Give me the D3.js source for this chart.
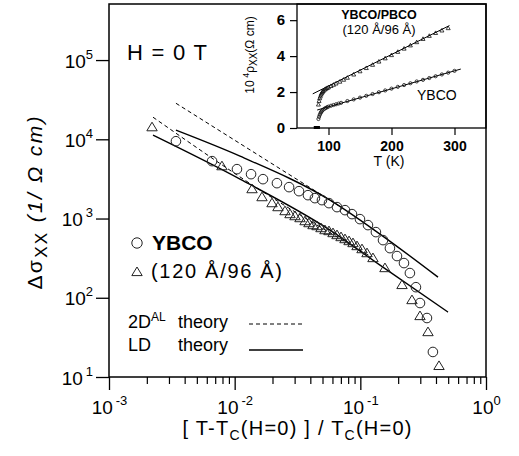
<!DOCTYPE html>
<html><head><meta charset="utf-8">
<script src="https://cdn.jsdelivr.net/npm/d3@7"></script>
<style>
body{margin:0;background:#fff;}
svg{display:block;}
</style></head><body>
<svg id="c" width="519" height="456"></svg>
<script>
// ---------------- data (main plot) ----------------
const xMajor = [1e-3, 1e-2, 1e-1, 1];
const xTickExp = ["-3", "-2", "-1", "0"];
const yMajor = [1e1, 1e2, 1e3, 1e4, 1e5];
const yTickExp = ["1", "2", "3", "4", "5"];

// YBCO (circles): reduced temperature and excess conductivity
const ybcoEps = [0.00341, 0.00661, 0.01043, 0.0135, 0.0168, 0.0217, 0.0271, 0.0325, 0.0383, 0.0435, 0.0495, 0.0563, 0.0652, 0.0755, 0.0858, 0.0993, 0.115, 0.133, 0.1515, 0.172, 0.1957, 0.2225, 0.248, 0.277, 0.2984, 0.339, 0.378];
const ybcoSig = [9460, 5300, 4200, 3630, 3140, 2795, 2490, 2215, 1972, 1808, 1706, 1564, 1393, 1276, 1137, 983, 826, 674, 534, 423, 336, 274, 205, 136, 85.8, 55.5, 20.7];

// YBCO/PBCO superlattice 120 Å/96 Å (triangles)
const slEps = [0.0022, 0.00792, 0.01374, 0.0165, 0.01982, 0.0221, 0.02515, 0.02756, 0.0302, 0.0331, 0.0363, 0.039, 0.042, 0.0452, 0.0486, 0.0523, 0.0563, 0.0606, 0.0652, 0.0702, 0.0755, 0.0813, 0.0874, 0.0941, 0.1031, 0.113, 0.126, 0.157, 0.2146, 0.2576, 0.2984, 0.3454, 0.4227];
const slSig = [14210, 4580, 2349, 1862, 1564, 1393, 1240, 1137, 1072, 1012, 927, 875, 826, 802, 757, 714, 694, 655, 618, 583, 550, 519, 490, 449, 411, 366, 317, 237, 145, 93.5, 58.8, 36.9, 13.8];

// theory curves
const alYbcoEps = [0.00341, 0.0702];
const alYbcoSig = [28500, 1393];
const alSlEps = [0.00224, 0.01743, 0.1194];
const alSlSig = [19000, 2090, 336];
const ldYbcoEps = [0.00341, 0.01103, 0.0574, 0.1434, 0.415];
const ldYbcoSig = [13020, 6120, 1706, 636, 182];
const ldSlEps = [0.00224, 0.01103, 0.0574, 0.1434, 0.498];
const ldSlSig = [11260, 3140, 714, 258, 66];

// ---------------- data (inset) ----------------
const inXTicks = [100, 200, 300];
const inYTicks = [0, 2, 4, 6];
const inSlT = [84, 85, 86, 87, 88, 89, 90, 91, 92, 94, 96, 98, 100, 104, 108, 112, 118, 124, 130, 140, 150, 160, 170, 180, 190, 200, 210, 220, 230, 240, 250, 260, 270, 280, 290];
const inSlR = [1.3, 1.5, 1.65, 1.75, 1.85, 1.92, 1.98, 2.03, 2.07, 2.13, 2.18, 2.22, 2.26, 2.33, 2.40, 2.47, 2.57, 2.68, 2.79, 2.97, 3.15, 3.33, 3.51, 3.69, 3.87, 4.05, 4.23, 4.41, 4.59, 4.77, 4.95, 5.12, 5.28, 5.42, 5.55];
const inYbT = [84, 85, 86, 87, 88, 89, 90, 92, 94, 96, 98, 100, 104, 108, 112, 116, 120, 130, 140, 150, 160, 170, 180, 190, 200, 210, 220, 230, 240, 250, 260, 270, 280, 290, 300];
const inYbR = [0.5, 0.62, 0.72, 0.8, 0.87, 0.92, 0.97, 1.03, 1.08, 1.12, 1.16, 1.19, 1.24, 1.28, 1.32, 1.36, 1.40, 1.50, 1.59, 1.69, 1.79, 1.89, 1.99, 2.09, 2.19, 2.29, 2.39, 2.49, 2.59, 2.68, 2.78, 2.88, 2.98, 3.08, 3.18];
const inZeroT = [79, 80, 81, 82, 83, 84];
const inSlFitT = [75, 292];
const inSlFitR = [1.9, 5.7];
const inYbFitT = [82, 310];
const inYbFitR = [1.0, 3.28];

// ---------------- drawing ----------------
const FONT = '"Liberation Sans", Arial, Helvetica, sans-serif';
const svg = d3.select('#c').attr('font-family', FONT);

const x = d3.scaleLog().domain([1e-3, 1]).range([109, 486]);
const y = d3.scaleLog().domain([10, 5.1e5]).range([377, 4]);

// x axis minor ticks
const xMinor = [];
xMajor.slice(0, -1).forEach(d => { for (let k = 2; k < 10; k++) xMinor.push(d * k); });
const gxm = svg.append('g').attr('transform', 'translate(0,377)')
  .call(d3.axisBottom(x).tickValues(xMinor).tickSize(7).tickSizeOuter(0).tickFormat(''));
gxm.select('.domain').remove();
gxm.selectAll('.tick line').attr('stroke', '#000').attr('stroke-width', 1.2);

const gx = svg.append('g').attr('transform', 'translate(0,377)')
  .call(d3.axisBottom(x).tickValues(xMajor).tickSize(13).tickSizeOuter(0).tickFormat(''));
gx.select('.domain').remove();
gx.selectAll('.tick line').attr('stroke', '#000').attr('stroke-width', 1.3);
gx.selectAll('.tick').each(function (d, i) {
  const t = d3.select(this).append('text').attr('y', 37).attr('fill', '#000')
    .attr('font-family', FONT).attr('font-size', 19).attr('text-anchor', 'middle');
  t.append('tspan').text('10');
  t.append('tspan').attr('dx', xTickExp[i] === '0' ? 0 : 3).attr('dy', -9).attr('font-size', 13).text(xTickExp[i]);
});

const gy = svg.append('g').attr('transform', 'translate(109,0)')
  .call(d3.axisLeft(y).tickValues(yMajor).tickSize(13).tickSizeOuter(0).tickFormat(''));
gy.select('.domain').remove();
gy.selectAll('.tick line').attr('stroke', '#000').attr('stroke-width', 1.3);
gy.selectAll('.tick').each(function (d, i) {
  const t = d3.select(this).append('text').attr('x', -16).attr('y', 7).attr('fill', '#000')
    .attr('font-family', FONT).attr('font-size', 19).attr('text-anchor', 'end');
  t.append('tspan').text('10');
  t.append('tspan').attr('dx', (i === 0 || i === 2) ? 3 : 0).attr('dy', -9).attr('font-size', 13).text(yTickExp[i]);
});

// theory lines
const line = d3.line().x(d => x(d[0])).y(d => y(d[1])).curve(d3.curveMonotoneX);
const zip = (a, b) => a.map((v, i) => [v, b[i]]);
const gl = svg.append('g').attr('fill', 'none').attr('stroke', '#000');
gl.append('path').attr('d', line(zip(alYbcoEps, alYbcoSig))).attr('stroke-width', 1).attr('stroke-dasharray', '4,3');
gl.append('path').attr('d', line(zip(alSlEps, alSlSig))).attr('stroke-width', 1).attr('stroke-dasharray', '4,3');
gl.append('path').attr('d', line(zip(ldYbcoEps, ldYbcoSig))).attr('stroke-width', 1.4);
gl.append('path').attr('d', line(zip(ldSlEps, ldSlSig))).attr('stroke-width', 1.4);

// markers
const triPath = 'M0,-5L5.2,3.6L-5.2,3.6Z';
svg.append('g').selectAll('circle').data(zip(ybcoEps, ybcoSig)).join('circle')
  .attr('cx', d => x(d[0])).attr('cy', d => y(d[1])).attr('r', 4.8)
  .attr('fill', 'none').attr('stroke', '#222').attr('stroke-width', 1);
svg.append('g').selectAll('path').data(zip(slEps, slSig)).join('path')
  .attr('transform', d => `translate(${x(d[0])},${y(d[1])})`).attr('d', triPath)
  .attr('fill', 'none').attr('stroke', '#222').attr('stroke-width', 1);

// texts in main plot
svg.append('text').attr('x', 127).attr('y', 60).attr('font-size', 22).attr('textLength', 80)
  .attr('lengthAdjust', 'spacing').text('H = 0 T');

// legend
svg.append('circle').attr('cx', 137).attr('cy', 243).attr('r', 5.2).attr('fill', 'none').attr('stroke', '#222').attr('stroke-width', 1);
svg.append('path').attr('transform', 'translate(137,272)').attr('d', triPath).attr('fill', 'none').attr('stroke', '#222').attr('stroke-width', 1);
svg.append('text').attr('x', 152).attr('y', 250).attr('font-size', 21).attr('font-weight', 'bold').text('YBCO');
svg.append('text').attr('x', 151).attr('y', 278).attr('font-size', 20).attr('textLength', 131).attr('lengthAdjust', 'spacing').text('(120 Å/96 Å)');
const t2d = svg.append('text').attr('x', 128).attr('y', 328).attr('font-size', 18);
t2d.append('tspan').text('2D');
t2d.append('tspan').attr('dy', -7).attr('font-size', 12).text('AL');
svg.append('text').attr('x', 178).attr('y', 328).attr('font-size', 18).text('theory');
svg.append('text').attr('x', 128).attr('y', 351).attr('font-size', 18).text('LD');
svg.append('text').attr('x', 178).attr('y', 351).attr('font-size', 18).text('theory');
svg.append('line').attr('x1', 249).attr('x2', 303).attr('y1', 324).attr('y2', 324).attr('stroke', '#000').attr('stroke-width', 1).attr('stroke-dasharray', '4,3');
svg.append('line').attr('x1', 249).attr('x2', 303).attr('y1', 350).attr('y2', 350).attr('stroke', '#000').attr('stroke-width', 1.4);

// axis titles
const xt = svg.append('text').attr('x', 297).attr('y', 435).attr('font-size', 20).attr('text-anchor', 'middle')
  .attr('textLength', 229).attr('lengthAdjust', 'spacing');
xt.append('tspan').text('[ T-T');
xt.append('tspan').attr('dy', 5).attr('font-size', 14).text('C');
xt.append('tspan').attr('dy', -5).text('(H=0) ] / T');
xt.append('tspan').attr('dy', 5).attr('font-size', 14).text('C');
xt.append('tspan').attr('dy', -5).text('(H=0)');

const yt = svg.append('text').attr('transform', 'translate(42,203) rotate(-90)').attr('font-size', 21)
  .attr('text-anchor', 'middle').attr('textLength', 173).attr('lengthAdjust', 'spacing');
yt.append('tspan').text('Δσ');
yt.append('tspan').attr('dy', 5).attr('font-size', 17).text('XX');
yt.append('tspan').attr('dy', -5).attr('font-style', 'italic').text(' (1/ Ω cm)');

// ---------------- inset ----------------
const xi = d3.scaleLinear().domain([50, 350]).range([297, 486]);
const yi = d3.scaleLinear().domain([0, 6.9]).range([128, 4]);
svg.append('rect').attr('x', 297).attr('y', 4).attr('width', 189).attr('height', 124)
  .attr('fill', '#fff').attr('stroke', '#000').attr('stroke-width', 1.3);

const gix = svg.append('g').attr('transform', 'translate(0,128)')
  .call(d3.axisBottom(xi).tickValues(inXTicks).tickSize(7).tickSizeOuter(0).tickPadding(4).tickFormat(d3.format('d')));
gix.select('.domain').remove();
gix.selectAll('.tick line').attr('stroke', '#000').attr('stroke-width', 1.2);
gix.selectAll('.tick text').attr('font-family', FONT).attr('font-size', 14).attr('font-weight', 'bold').attr('fill', '#000').attr('dy', '0.85em');

const giy = svg.append('g').attr('transform', 'translate(297,0)')
  .call(d3.axisLeft(yi).tickValues(inYTicks).tickSize(7).tickSizeOuter(0).tickPadding(5).tickFormat(d3.format('d')));
giy.select('.domain').remove();
giy.selectAll('.tick line').attr('stroke', '#000').attr('stroke-width', 1.2);
giy.selectAll('.tick text').attr('font-family', FONT).attr('font-size', 15).attr('font-weight', 'bold').attr('fill', '#000');

const iline = d3.line().x(d => xi(d[0])).y(d => yi(d[1]));
svg.append('path').attr('d', iline(zip(inSlFitT, inSlFitR))).attr('fill', 'none').attr('stroke', '#000').attr('stroke-width', 1);
svg.append('path').attr('d', iline(zip(inYbFitT, inYbFitR))).attr('fill', 'none').attr('stroke', '#000').attr('stroke-width', 1);
svg.append('g').selectAll('path').data(zip(inSlT, inSlR)).join('path')
  .attr('transform', d => `translate(${xi(d[0])},${yi(d[1])})`).attr('d', 'M0,-2.2L2,1.4L-2,1.4Z')
  .attr('fill', 'none').attr('stroke', '#111').attr('stroke-width', 0.8);
svg.append('g').selectAll('circle').data(zip(inYbT, inYbR)).join('circle')
  .attr('cx', d => xi(d[0])).attr('cy', d => yi(d[1])).attr('r', 1.6)
  .attr('fill', 'none').attr('stroke', '#111').attr('stroke-width', 0.8);
svg.append('g').selectAll('rect').data(inZeroT).join('rect')
  .attr('x', d => xi(d) - 1.5).attr('y', yi(0) - 2).attr('width', 3).attr('height', 3).attr('fill', '#000');

svg.append('text').attr('x', 379).attr('y', 19).attr('font-size', 12.5).attr('font-weight', 'bold').attr('text-anchor', 'middle').text('YBCO/PBCO');
svg.append('text').attr('x', 379).attr('y', 34).attr('font-size', 13).attr('text-anchor', 'middle').text('(120 Å/96 Å)');
svg.append('text').attr('x', 417).attr('y', 100).attr('font-size', 14).text('YBCO');
svg.append('text').attr('x', 389).attr('y', 166).attr('font-size', 14).attr('text-anchor', 'middle').text('T (K)');
const iyt = svg.append('text').attr('transform', 'translate(254,55) rotate(-90)').attr('font-size', 12).attr('text-anchor', 'middle');
iyt.append('tspan').text('10');
iyt.append('tspan').attr('dy', -5).attr('font-size', 9).text(' 4');
iyt.append('tspan').attr('dy', 5).text('ρ');
iyt.append('tspan').attr('dy', 3).attr('font-size', 10).text('XX');
iyt.append('tspan').attr('dy', -3).text('(Ω cm)');

// main frame
svg.append('rect').attr('x', 109).attr('y', 4).attr('width', 377).attr('height', 373)
  .attr('fill', 'none').attr('stroke', '#000').attr('stroke-width', 1.5);
</script>
</body></html>
